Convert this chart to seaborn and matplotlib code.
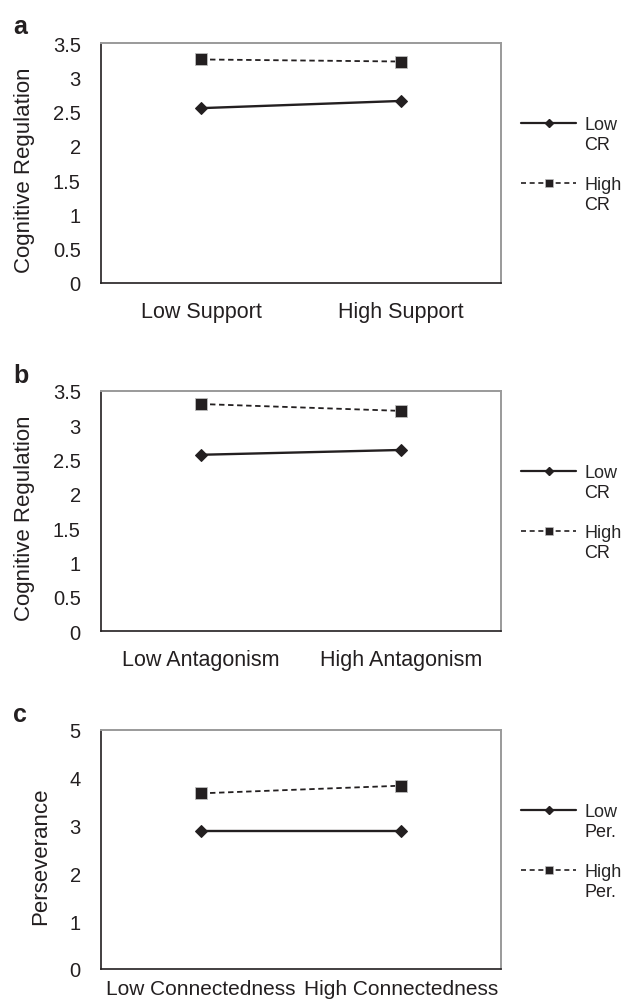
import matplotlib
matplotlib.use("Agg")
import matplotlib.pyplot as plt
from matplotlib.lines import Line2D
import numpy as np
import pandas as pd
import seaborn as sns

# values
support_cats = ["Low Support", "High Support"]
support_low_cr = [2.55, 2.655]
support_high_cr = [3.26, 3.23]

antag_cats = ["Low Antagonism", "High Antagonism"]
antag_low_cr = [2.57, 2.64]
antag_high_cr = [3.31, 3.21]

connect_cats = ["Low Connectedness", "High Connectedness"]
connect_low_per = [2.89, 2.89]
connect_high_per = [3.675, 3.835]

cr_labels = [("Low", "CR"), ("High", "CR")]
per_labels = [("Low", "Per."), ("High", "Per.")]
cr_ticks = [0, 0.5, 1, 1.5, 2, 2.5, 3, 3.5]
cr_ticklabels = ["0", "0.5", "1", "1.5", "2", "2.5", "3", "3.5"]
per_ticks = [0, 1, 2, 3, 4, 5]
per_ticklabels = ["0", "1", "2", "3", "4", "5"]

sns.set_style("white")
plt.rcParams["font.family"] = ["Liberation Sans", "DejaVu Sans"]

INK = "#231f20"
GREY = "#9a9a9a"

fig = plt.figure(figsize=(6.22, 10.04), dpi=100)
W, H = 622, 1004


def make_axes(top_px, bottom_px):
    return fig.add_axes([101 / W, 1 - bottom_px / H, 400 / W, (bottom_px - top_px) / H])


def panel(ax, cats, low, high, ylabel, ylabel_x, ticks, ticklabels, leg_labels,
          letter, letter_y, xfont=15.5, xpad=13):
    df = pd.DataFrame({"pos": np.arange(len(cats)) + 0.5, "low": low, "high": high})
    sns.lineplot(data=df, x="pos", y="low", ax=ax, color=INK, linewidth=1.7,
                 marker="D", markersize=6.2, markeredgecolor=INK, legend=False)
    sns.lineplot(data=df, x="pos", y="high", ax=ax, color=INK, linewidth=1.3,
                 linestyle=(0, (3, 2)), marker="s", markersize=8.8,
                 markeredgecolor="#bdbdbd", markeredgewidth=0.6, legend=False)

    ax.set_xlim(0, len(cats))
    ax.set_ylim(ticks[0], ticks[-1])
    ax.set_xticks(df["pos"])
    ax.set_xticklabels(cats, fontsize=xfont, color=INK)
    ax.set_xticks(np.arange(len(cats) + 1), minor=True)
    ax.tick_params(axis="x", which="major", length=0, pad=xpad)
    ax.tick_params(axis="x", which="minor", length=5, width=1, color=GREY, direction="out")
    ax.set_yticks(ticks)
    ax.set_yticklabels(ticklabels, fontsize=14.5, color=INK)
    ax.tick_params(axis="y", length=5, width=1, color="#777777", direction="out", pad=9.5)
    ax.set_xlabel("")
    ax.set_ylabel(ylabel, fontsize=16, va="center", color=INK)
    ax.yaxis.set_label_coords(ylabel_x, 0.475)

    for side in ["left", "bottom"]:
        ax.spines[side].set_color(INK)
        ax.spines[side].set_linewidth(1.2)
    for side in ["top", "right"]:
        ax.spines[side].set_color(GREY)
        ax.spines[side].set_linewidth(1.4)
    ax.grid(False)

    handles = [
        Line2D([], [], color=INK, linewidth=1.6, marker="D", markersize=4, markeredgecolor=INK),
        Line2D([], [], color=INK, linewidth=1.2, linestyle=(0, (3, 2.2)), marker="s",
               markersize=5.5, markeredgecolor="#bdbdbd", markeredgewidth=0.5),
    ]
    leg = ax.legend(handles, [l[0] for l in leg_labels], loc="upper left",
                    bbox_to_anchor=(1.05, 0.695), frameon=False, fontsize=13,
                    handlelength=3.05, handletextpad=0.45, labelspacing=2.38,
                    borderpad=0, borderaxespad=0)
    for txt, (_, second) in zip(leg.get_texts(), leg_labels):
        ax.annotate(second, xy=(0, 0), xycoords=txt, xytext=(0, -2),
                    textcoords="offset points", ha="left", va="top", fontsize=13,
                    color=INK, zorder=10, annotation_clip=False)

    fig.text(13 / W, 1 - letter_y / H, letter, fontsize=18, fontweight="bold",
             ha="left", va="baseline", color=INK)


ax_a = make_axes(44, 284)
panel(ax_a, support_cats, support_low_cr, support_high_cr, "Cognitive Regulation", -0.19,
      cr_ticks, cr_ticklabels, cr_labels, "a", 34)

ax_b = make_axes(392, 632)
panel(ax_b, antag_cats, antag_low_cr, antag_high_cr, "Cognitive Regulation", -0.19,
      cr_ticks, cr_ticklabels, cr_labels, "b", 383)

ax_c = make_axes(731, 970)
panel(ax_c, connect_cats, connect_low_per, connect_high_per, "Perseverance", -0.15,
      per_ticks, per_ticklabels, per_labels, "c", 722, xfont=15, xpad=7)

fig.savefig("out.png", dpi=100)
